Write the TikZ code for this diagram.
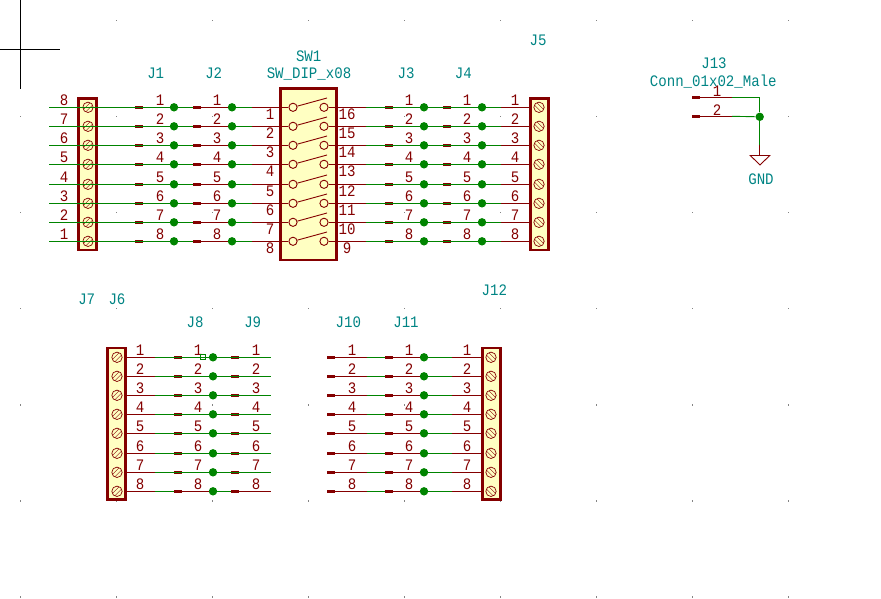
\documentclass[tikz,border=0pt]{standalone}
\usepackage{fontspec}
\setmainfont[FakeStretch=0.88]{Liberation Mono}
\usetikzlibrary{positioning}
\definecolor{pinred}{RGB}{132, 0, 0}
\definecolor{wiregreen}{RGB}{0, 132, 0}
\definecolor{reftext}{RGB}{0, 132, 132}
\definecolor{bodyfill}{RGB}{255, 255, 194}
\definecolor{griddot}{RGB}{132, 132, 132}
\tikzset{
    wire/.style={draw=wiregreen, line width=0.9pt},
    pin/.style={draw=pinred, line width=0.9pt},
    stub/.style={rectangle, fill=pinred, inner sep=0pt, minimum width=8pt, minimum height=3.2pt},
    junc/.style={circle, fill=wiregreen, inner sep=0pt, minimum size=8.4pt},
    body/.style={rectangle, draw=pinred, fill=bodyfill, line width=2.4pt, inner sep=0pt},
    termbody/.style={body, minimum width=18pt, minimum height=151.6pt},
    pad/.style={circle, draw=pinred, fill=bodyfill, line width=0.9pt, inner sep=0pt, minimum size=8.2pt},
    screw/.style={circle, draw=pinred, line width=0.7pt, inner sep=0pt, minimum size=10.4pt},
    screwl/.style={screw, path picture={
        \draw[pinred, line width=0.4pt] ([shift={(-1.2pt,1.2pt)}]path picture bounding box.south west) -- ([shift={(-1.2pt,1.2pt)}]path picture bounding box.north east);
        \draw[pinred, line width=0.4pt] ([shift={(1.2pt,-1.2pt)}]path picture bounding box.south west) -- ([shift={(1.2pt,-1.2pt)}]path picture bounding box.north east);}},
    screwr/.style={screw, path picture={
        \draw[pinred, line width=0.4pt] ([shift={(1.2pt,1.2pt)}]path picture bounding box.north west) -- ([shift={(1.2pt,1.2pt)}]path picture bounding box.south east);
        \draw[pinred, line width=0.4pt] ([shift={(-1.2pt,-1.2pt)}]path picture bounding box.north west) -- ([shift={(-1.2pt,-1.2pt)}]path picture bounding box.south east);}},
    pinnum/.style={inner sep=0pt, text=pinred, text height=10.6pt, text depth=0pt, font=\fontsize{16}{16}\selectfont},
    refname/.style={pinnum, text=reftext}
}
\begin{document}
\begin{tikzpicture}[x=1pt, y=-1pt]
    \useasboundingbox (0,0) rectangle (881,598);
    \foreach \gx in {20.5,116.5,212.5,308.5,404.5,500.5,596.5,692.5,788.5}
        \foreach \gy in {20.5,116.5,212.5,308.5,405,501,597}
            \fill[griddot] (\gx-0.6,\gy-0.6) rectangle (\gx+0.6,\gy+0.6);
    % cursor
    \coordinate (curtop) at (20.3,0);
    \coordinate (curbot) at (20.3,89);
    \coordinate (curleft) at (0,49.3);
    \coordinate (curright) at (60,49.3);
    \draw[black, line width=0.9pt] (curtop) -- (curbot) (curleft) -- (curright);
    % upper group
    \node[termbody] (j7) at (87.5,174.3) {};
    \node[termbody] (j5) at (539.3,174.3) {};
    \node[body, minimum width=56pt, minimum height=171.6pt] (sw1) at (308.5,174.3) {};
    \foreach \n/\y/\r/\k in {1/107.3/8/16, 2/126.3/7/15, 3/145.3/6/14, 4/164.3/5/13, 5/184.3/4/12, 6/203.3/3/11, 7/222.3/2/10, 8/241.3/1/9} {
        \coordinate (a\n) at (49,\y);
        \node[screwl] (sl\n) at (88,\y) {};
        \node[stub] (ja\n) at (139,\y) {};
        \node[junc] (qa\n) at (174,\y) {};
        \node[stub] (jb\n) at (197,\y) {};
        \node[junc] (qb\n) at (232,\y) {};
        \coordinate (tb\n) at (252,\y);
        \node[pad] (pl\n) at (293,\y) {};
        \node[pad] (pr\n) at (324,\y) {};
        \coordinate (lv\n) at (327,\y-9.3);
        \coordinate (tc\n) at (366,\y);
        \node[stub] (jc\n) at (389,\y) {};
        \node[junc] (qc\n) at (424,\y) {};
        \node[stub] (jd\n) at (447,\y) {};
        \node[junc] (qd\n) at (482,\y) {};
        \coordinate (te\n) at (501,\y);
        \node[screwr] (sr\n) at (539,\y) {};
        \draw[wire] (a\n) -- (qa\n);
        \draw[wire] (qa\n) -- (jb\n.west);
        \draw[pin] (jb\n.west) -- (qb\n);
        \draw[wire] (qb\n) -- (tb\n);
        \draw[pin] (tb\n) -- (pl\n.west);
        \draw[pin] (pl\n.15) -- (lv\n);
        \draw[pin] (pr\n.east) -- (tc\n);
        \draw[wire] (tc\n) -- (qc\n);
        \draw[wire] (qc\n) -- (qd\n);
        \draw[wire] (qd\n) -- (te\n);
        \draw[pin] (te\n) -- (j5.west |- te\n);
        \node[pinnum] (la\n) at (64,\y-7) {\r};
        \node[pinnum] (lb\n) at (160,\y-7) {\n};
        \node[pinnum] (lc\n) at (217,\y-7) {\n};
        \node[pinnum] (ld\n) at (270,\y+6.7) {\n};
        \node[pinnum] (le\n) at (347,\y+6.7) {\k};
        \node[pinnum] (lf\n) at (409,\y-7) {\n};
        \node[pinnum] (lg\n) at (467,\y-7) {\n};
        \node[pinnum] (lh\n) at (515,\y-7) {\n};
    }
    % lower group
    \node[termbody] (j6) at (116.4,423.8) {};
    \node[termbody] (j12) at (491.5,423.8) {};
    \foreach \n/\y/\s in {1/357.3/wire, 2/376.3/wire, 3/395.3/wire, 4/414.3/wire, 5/433.3/wire, 6/453.3/wire, 7/472.3/wire, 8/491.3/pin} {
        \node[screwl] (tl\n) at (117,\y) {};
        \coordinate (ua\n) at (155,\y);
        \node[stub] (ka\n) at (178,\y) {};
        \node[junc] (ra\n) at (213,\y) {};
        \node[stub] (kb\n) at (235,\y) {};
        \coordinate (ub\n) at (271,\y);
        \draw[pin] (j6.east |- ua\n) -- (ua\n);
        \draw[wire] (ua\n) -- (ka\n.west);
        \draw[\s] (ka\n.west) -- (ra\n);
        \draw[wire] (ra\n) -- (kb\n.west);
        \draw[\s] (kb\n.west) -- (ub\n);
        \node[pinnum] (ma\n) at (140,\y-7) {\n};
        \node[pinnum] (mb\n) at (198,\y-7) {\n};
        \node[pinnum] (mc\n) at (256,\y-7) {\n};
        \node[stub] (kc\n) at (331,\y) {};
        \coordinate (uc\n) at (367,\y);
        \node[stub] (kd\n) at (389,\y) {};
        \node[junc] (rb\n) at (424,\y) {};
        \coordinate (ud\n) at (452,\y);
        \node[screwr] (tr\n) at (491,\y) {};
        \draw[pin] (kc\n.east) -- (uc\n);
        \draw[wire] (uc\n) -- (kd\n.west);
        \draw[pin] (kd\n.east) -- (rb\n);
        \draw[wire] (rb\n) -- (ud\n);
        \draw[pin] (ud\n) -- (j12.west |- ud\n);
        \node[pinnum] (md\n) at (352,\y-7) {\n};
        \node[pinnum] (me\n) at (409,\y-7) {\n};
        \node[pinnum] (mf\n) at (467,\y-7) {\n};
    }
    \node[rectangle, draw=wiregreen, line width=0.8pt, inner sep=0pt, minimum size=5.4pt] (nc1) at (203,357) {};
    % J13 and ground
    \node[stub] (ga) at (696,97.3) {};
    \node[stub] (gb) at (696,116.3) {};
    \coordinate (ta) at (732,97.3);
    \coordinate (tg) at (732,116.3);
    \coordinate (corner) at (759.7,97.3);
    \node[junc] (qg) at (759.7,116.8) {};
    \coordinate (gtop) at (759.7,145);
    \coordinate (gnd) at (759.7,155.5);
    \coordinate (gndl) at (750.3,155.5);
    \coordinate (gndr) at (769.7,155.5);
    \coordinate (gndb) at (760,165);
    \draw[pin] (ga) -- (ta);
    \draw[pin] (gb) -- (tg);
    \draw[wire] (ta) -- (corner) -- (qg);
    \draw[wire] (tg) -- (qg);
    \draw[wire] (qg) -- (gtop);
    \draw[pin] (gtop) -- (gnd);
    \draw[pin] (gndl) -- (gndr) -- (gndb) -- cycle;
    \node[pinnum] (lg1) at (717,91) {1};
    \node[pinnum] (lg2) at (717,110) {2};
    % reference names
    \node[refname] (rj1) at (155.7,72.7) {J1};
    \node[refname] (rj2) at (213.7,72.7) {J2};
    \node[refname] (rsw) at (308.7,56) {SW1};
    \node[refname] (vsw) at (309,73.3) {SW\_DIP\_x08};
    \node[refname] (rj3) at (406,72.7) {J3};
    \node[refname] (rj4) at (463.3,72.7) {J4};
    \node[refname] (rj5) at (538,40) {J5};
    \node[refname] (rj13) at (714,63.3) {J13};
    \node[refname] (vj13) at (713.3,81) {Conn\_01x02\_Male};
    \node[refname] (vgnd) at (761,179) {GND};
    \node[refname] (rj7) at (86.7,299) {J7};
    \node[refname] (rj6) at (117,299) {J6};
    \node[refname] (rj8) at (195,322) {J8};
    \node[refname] (rj9) at (252.7,322) {J9};
    \node[refname] (rj10) at (348.3,322) {J10};
    \node[refname] (rj11) at (406,322) {J11};
    \node[refname] (rj12) at (494.3,290) {J12};
\end{tikzpicture}
\end{document}
